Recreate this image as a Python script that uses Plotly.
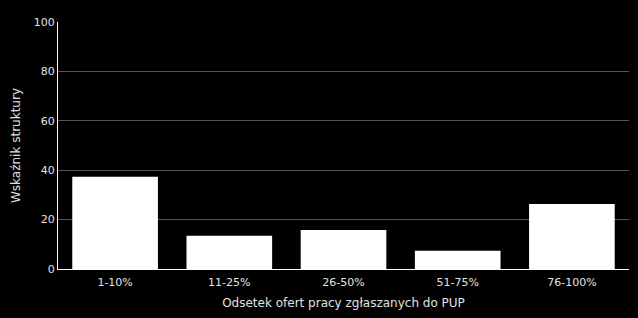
import plotly.graph_objects as go

categories = ["1-10%", "11-25%", "26-50%", "51-75%", "76-100%"]
values = [37.3, 13.5, 15.8, 7.4, 26.3]
y_ticks = [0, 20, 40, 60, 80, 100]

fig = go.Figure(go.Bar(x=categories, y=values, marker=dict(color="white", line=dict(width=0)), width=0.75))

fig.update_layout(
    width=638, height=318,
    margin=dict(l=58, r=9, t=22, b=49),
    paper_bgcolor="black", plot_bgcolor="black",
    font=dict(family="DejaVu Sans", color="#e0e0e0", size=11),
    showlegend=False,
)
fig.update_xaxes(
    showline=True, linecolor="white", linewidth=1,
    showgrid=False, ticks="outside", ticklen=3, tickcolor="black",
    title=dict(text="Odsetek ofert pracy zgłaszanych do PUP", font=dict(size=12), standoff=10),
    tickfont=dict(size=11),
)
fig.update_yaxes(
    range=[0, 100], tickvals=y_ticks,
    showline=True, linecolor="white", linewidth=1,
    showgrid=True, gridcolor="#555555", gridwidth=1,
    zeroline=False, ticks="",
    title=dict(text="Wskaźnik struktury", font=dict(size=12), standoff=10),
    tickfont=dict(size=11),
)
fig.write_html("out.html")
